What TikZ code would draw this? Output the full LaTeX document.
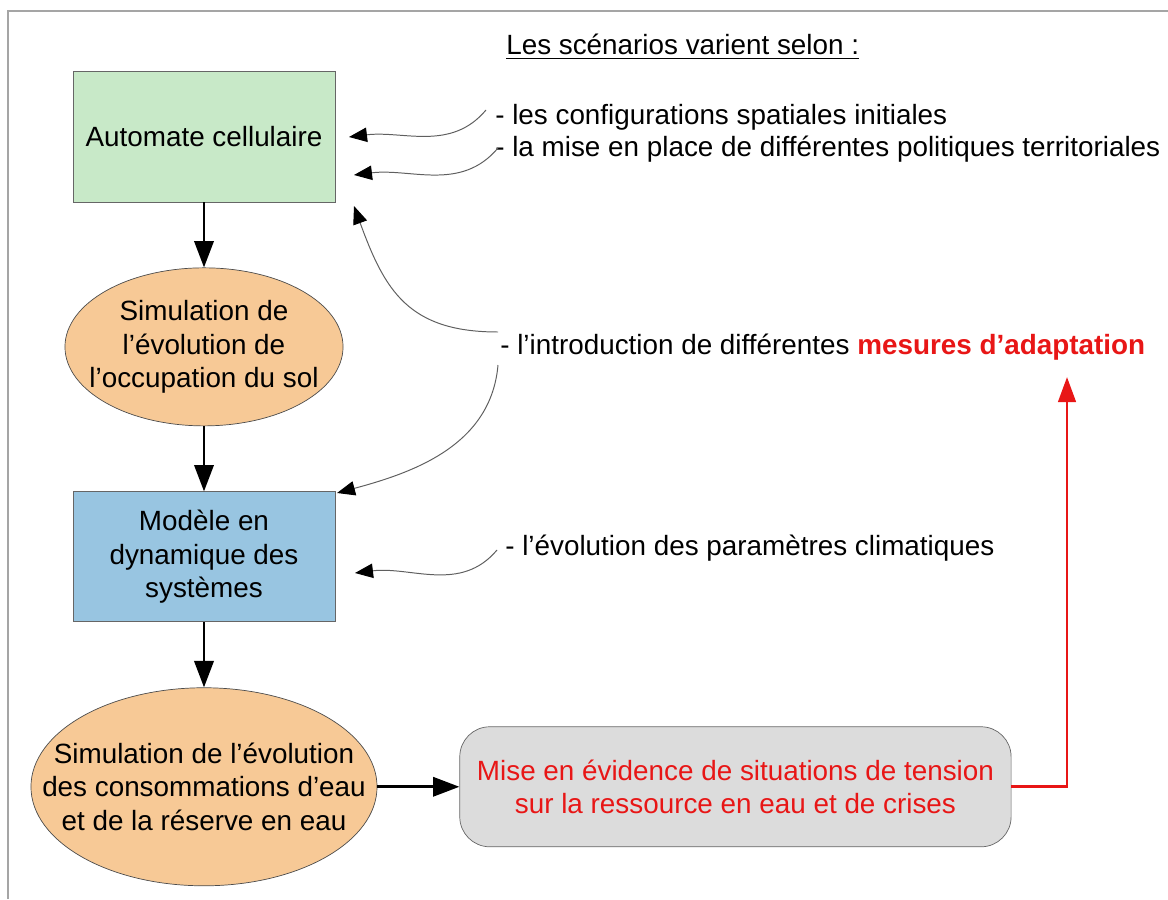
\documentclass[tikz,border=0pt]{standalone}
\usepackage{fontspec}
\setmainfont{Liberation Sans}
\usetikzlibrary{arrows.meta,positioning,shapes.geometric}
\definecolor{vert}{RGB}{200,233,200}
\definecolor{orange}{RGB}{247,201,150}
\definecolor{bleu}{RGB}{152,197,225}
\definecolor{gris}{RGB}{220,220,220}
\definecolor{rouge}{RGB}{232,22,22}
\definecolor{cadre}{RGB}{165,165,165}
\definecolor{fleche}{RGB}{95,95,95}
\newcommand\souligne[1]{\setbox0=\hbox{#1}\rlap{\rule[-3.2pt]{\wd0}{1.3pt}}\box0}

\begin{document}
\begin{tikzpicture}[
    x=0.025cm,y=0.025cm,
    node distance=1.63cm,
    font=\fontsize{19.8pt}{24pt}\selectfont,
    boite/.style={draw=gray!80!black,line width=0.5pt,minimum width=6.55cm,
      minimum height=3.27cm,align=center},
    bulle/.style={ellipse,draw=gray!60!black,line width=0.5pt,fill=orange,
      inner sep=-1.2cm,align=center},
    ligne/.style={anchor=base west,inner sep=0pt},
    bord/.style={draw=cadre,line width=1.5pt},
    arrow/.style={-{Triangle[length=6.6mm,width=4.8mm]},line width=2.1pt},
    fin/.style={-{Triangle[length=4.5mm,width=3.6mm,color=black]},line width=0.7pt,draw=fleche},
    retour/.style={-{Triangle[length=6.3mm,width=4.4mm]},line width=2.1pt,draw=rouge}
  ]
    \useasboundingbox (0,0) rectangle (1168,-899);
    \draw[bord] (8,-899) -- (8,-11) -- (1168,-11);

    % colonne de gauche
    \node[boite,fill=vert] (auto) at (204,-136.5) {Automate cellulaire};
    \node[bulle,minimum width=6.95cm,minimum height=3.95cm,below=of auto] (simsol)
      {Simulation de\\l'évolution de\\l'occupation du sol};
    \node[boite,fill=bleu,minimum height=3.25cm,below=of simsol] (modele)
      {Modèle en\\dynamique des\\systèmes};
    \node[bulle,minimum width=8.65cm,minimum height=4.95cm,below=of modele] (simeau)
      {Simulation de l'évolution\\des consommations d'eau\\et de la réserve en eau};
    \node[boite,fill=gris,rounded corners=0.75cm,minimum width=13.78cm,minimum height=3cm,
      text=rouge,right=2.05cm of simeau] (crises)
      {Mise en évidence de situations de tension\\sur la ressource en eau et de crises};

    % scenarios
    \node[ligne] (titre) at (506,-55) {\souligne{Les scénarios varient selon :}};
    \node[ligne] (conf) at (495,-125) {- les configurations spatiales initiales};
    \node[ligne] (poli) at (495,-157) {- la mise en place de différentes politiques territoriales};
    \node[ligne] (intro) at (500,-354)
      {- l'introduction de différentes \textcolor{rouge}{\bfseries mesures d'adaptation}};
    \node[ligne] (clim) at (505,-555) {- l'évolution des paramètres climatiques};

    \coordinate (c1s) at (486,-110);
    \coordinate (c1e) at (349,-137);
    \coordinate (c2s) at (498,-148);
    \coordinate (c2e) at (354,-175);
    \coordinate (c3s) at (498,-332);
    \coordinate (c3e) at (354,-206);
    \coordinate (c4s) at (498,-365);
    \coordinate (c4e) at (337,-493);
    \coordinate (c5s) at (497,-550);
    \coordinate (c5e) at (355,-573);
    \coordinate (rtip) at (1067,-377);

    \draw[arrow] (auto) -- (simsol);
    \draw[arrow] (simsol) -- (modele);
    \draw[arrow] (modele) -- (simeau);
    \draw[arrow] (simeau) -- (crises);
    \draw[retour] (crises.east) -| (rtip);

    \draw[fin] (c1s) to[out=-130,in=7] (c1e);
    \draw[fin] (c2s) to[out=-130,in=7] (c2e);
    \draw[fin] (c3s) to[out=180,in=-70,looseness=1.2] (c3e);
    \draw[fin] (c4s) to[out=-95,in=15] (c4e);
    \draw[fin] (c5s) to[out=-130,in=7] (c5e);
  \end{tikzpicture}
\end{document}
